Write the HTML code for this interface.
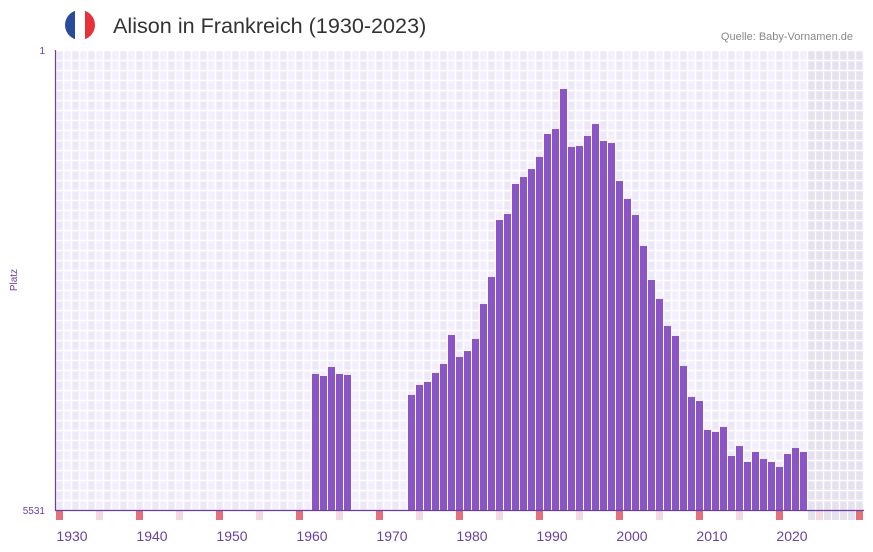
<!DOCTYPE html>
<html><head><meta charset="utf-8"><style>
body{margin:0;background:#fff;font-family:"Liberation Sans",sans-serif;}
svg{display:block}
</style></head><body>
<svg id="c" width="873" height="552">
  <g>
    <clipPath id="fc"><circle cx="80" cy="25" r="15"/></clipPath>
    <g clip-path="url(#fc)"><rect x="65" y="10" width="10" height="30" fill="#2b4a9c"/><rect x="75" y="10" width="10" height="30" fill="#fff"/><rect x="85" y="10" width="10" height="30" fill="#e8303a"/></g>
  </g>
  <text x="113" y="33" font-size="21.6" fill="#333">Alison in Frankreich (1930-2023)</text>
  <text x="853" y="40" font-size="11" fill="#888" text-anchor="end">Quelle: Baby-Vornamen.de</text>
  <text x="17" y="280" font-size="10" fill="#6a3fa0" text-anchor="middle" transform="rotate(-90 17 280)">Platz</text>
  <text x="45" y="54" font-size="10" fill="#6a3fa0" text-anchor="end">1</text>
  <text x="45" y="514" font-size="10" fill="#6a3fa0" text-anchor="end">5531</text>
  <g id="grid"></g><g id="bars"></g><g id="ticks"></g>
</svg>
<script>
const years=[1960,1961,1962,1963,1964,1972,1973,1974,1975,1976,1977,1978,1979,1980,1981,1982,1983,1984,1985,1986,1987,1988,1989,1990,1991,1992,1993,1994,1995,1996,1997,1998,1999,2000,2001,2002,2003,2004,2005,2006,2007,2008,2009,2010,2011,2012,2013,2014,2015,2016,2017,2018,2019,2020,2021];
const ranks=[3896,3920,3812,3896,3908,4148,4028,3992,3884,3776,3427,3692,3620,3475,3055,2730,2045,1973,1612,1528,1432,1287,1011,951,470,1167,1155,1035,891,1095,1119,1576,1792,1985,2357,2766,2994,3319,3439,3800,4172,4220,4569,4593,4533,4882,4762,4954,4834,4918,4954,5014,4858,4786,4834];
const tickLabels=["1930","1940","1950","1960","1970","1980","1990","2000","2010","2020"];
const firstYear=1928,lastYear=2028,rankMin=1,rankMax=5531;
const X0=56,COL=8,Y0=50,Y1=510;
const xs=y=>X0+(y-firstYear)*COL;
const ys=r=>Y0+(r-rankMin)/(rankMax-rankMin)*(Y1-Y0);
const NS="http://www.w3.org/2000/svg";
function mk(t,a,p){const e=document.createElementNS(NS,t);for(const k in a)e.setAttribute(k,a[k]);p.appendChild(e);return e;}
const grid=document.getElementById('grid'),bars=document.getElementById('bars'),ticks=document.getElementById('ticks');
for(let y=firstYear;y<=lastYear;y++){
  const x=xs(y);
  const col=mk('rect',{x:x,y:Y0,width:COL,height:Y1-Y0,fill:y>=2022?'#e6e1ef':(y%2?'#f3effc':'#ede8f9')},grid);
  
  
  const m=mk('rect',{x:x,y:Y1,width:COL-1,height:10,fill:y%10==8?'#e5707a':(y%10==3?'#f5d8e0':(y>=2022?'#e6e1ef':'#fff'))},grid);
  
  
}
for(let x=X0;x<=X0+(lastYear-firstYear+1)*COL;x+=COL){const l=mk('line',{x1:x-0.5,x2:x-0.5,y1:Y0,y2:Y1,stroke:'#fff','stroke-width':1.5},grid);}
for(let y=Y0;y<Y1;y+=10){const l=mk('line',{x1:X0,x2:864,y1:y+0.5,y2:y+0.5,stroke:'#fff','stroke-width':1.5},grid);}
years.forEach((yr,i)=>{
  const t=ys(ranks[i]);
  const b=mk('rect',{x:xs(yr),y:t,width:COL-1,height:Y1-t,fill:'#8b55c6'},bars);
  
  
});
const ax=mk('path',{d:`M${X0-0.5} ${Y0} V${Y1+0.5} H864`,stroke:'#6a3fa0',fill:'none','stroke-width':1.2},ticks);


tickLabels.forEach(s=>{
  const t=mk('text',{x:xs(+s),y:541,'font-size':14,fill:'#6a3fa0','text-anchor':'middle'},ticks);
  t.textContent=s;
  
  
});
</script>
</body></html>
